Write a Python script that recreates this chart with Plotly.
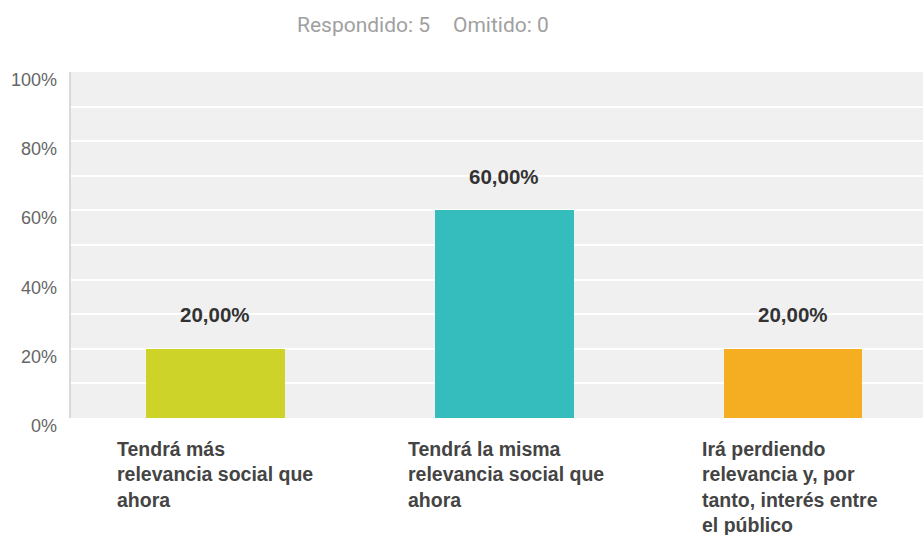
import plotly.graph_objects as go

# Survey answers and their share of responses (%)
categories = [
    "Tendrá más<br>relevancia social que<br>ahora",
    "Tendrá la misma<br>relevancia social que<br>ahora",
    "Irá perdiendo<br>relevancia y, por<br>tanto, interés entre<br>el público",
]
percentages = [20.0, 60.0, 20.0]
bar_colors = ["#CDD328", "#35BDBE", "#F5AE21"]
y_ticks = [0, 20, 40, 60, 80, 100]
answered = 5
skipped = 0

FONT = "Liberation Sans, Arial, sans-serif"
W, H = 923, 535
L_MARGIN = 71
PLOT_W = W - L_MARGIN


def px_to_paper_x(px):
    return (px - L_MARGIN) / PLOT_W


fig = go.Figure()
fig.add_trace(go.Bar(
    x=categories,
    y=percentages,
    marker=dict(color=bar_colors, line=dict(width=0)),
    width=0.48,
    hoverinfo="skip",
))

annotations = []

# value labels above each bar
for cat, val in zip(categories, percentages):
    annotations.append(dict(
        x=cat, y=val, xref="x", yref="y",
        text=f"{val:.2f}".replace(".", ",") + "%",
        showarrow=False, yanchor="middle", yshift=34,
        font=dict(family=FONT, size=20.5, color="#333333", weight="bold"),
    ))

# category labels, left aligned under each bar
for cat, shift in zip(categories, [-100, -98, -93]):
    annotations.append(dict(
        x=cat, y=0, xref="x", yref="paper",
        text=cat, align="left",
        showarrow=False, xanchor="left", yanchor="top",
        xshift=shift, yshift=-18,
        font=dict(family=FONT, size=19.5, color="#444444", weight="bold"),
    ))

# y axis tick labels, set a little below their gridlines
for t in y_ticks:
    annotations.append(dict(
        x=0, y=t, xref="paper", yref="y",
        text=f"{t}%", showarrow=False,
        xanchor="right", yanchor="middle", xshift=-12, yshift=-8,
        font=dict(family=FONT, size=18, color="#666666"),
    ))

# response counts header
header_font = dict(family="Roboto, Arial, sans-serif", size=21, color="#a0a0a0")
annotations.append(dict(
    x=px_to_paper_x(295), y=1, xref="paper", yref="paper",
    text=f"Respondido: {answered}", showarrow=False,
    xanchor="left", yanchor="middle", yshift=47, font=header_font,
))
annotations.append(dict(
    x=px_to_paper_x(451), y=1, xref="paper", yref="paper",
    text=f"Omitido: {skipped}", showarrow=False,
    xanchor="left", yanchor="middle", yshift=47, font=header_font,
))

fig.update_layout(
    width=W, height=H,
    margin=dict(l=L_MARGIN, r=0, t=72, b=117),
    paper_bgcolor="white",
    plot_bgcolor="#f0f0f0",
    showlegend=False,
    bargap=0,
    annotations=annotations,
    xaxis=dict(
        type="category",
        range=[-0.5, 2.45],
        showticklabels=False,
        showgrid=False, zeroline=False, showline=False, ticks="",
        fixedrange=True,
    ),
    yaxis=dict(
        range=[0, 100],
        tickvals=list(range(0, 101, 10)),
        showticklabels=False,
        showgrid=True, gridcolor="#ffffff", gridwidth=2,
        zeroline=False,
        showline=True, linecolor="#dadada", linewidth=2,
        ticks="",
        fixedrange=True,
    ),
)

fig.write_html("out.html")
